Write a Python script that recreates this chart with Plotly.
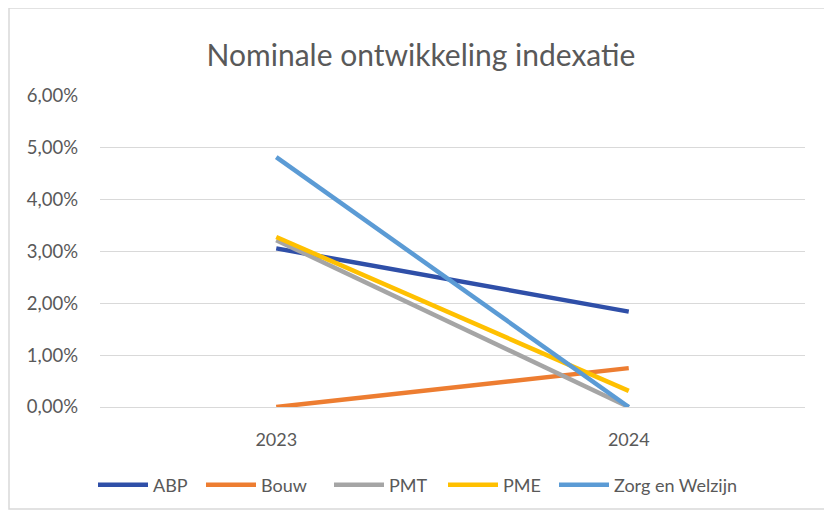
import plotly.graph_objects as go

years = ["2023", "2024"]
abp = [3.06, 1.84]
bouw = [0.0, 0.75]
pmt = [3.22, 0.0]
pme = [3.28, 0.31]
zorg = [4.82, 0.0]

series_names = ["ABP", "Bouw", "PMT", "PME", "Zorg en Welzijn"]
series_values = [abp, bouw, pmt, pme, zorg]
colors = ["#2F4FA8", "#ED7D31", "#A5A5A5", "#FFC000", "#5B9BD5"]
legend_entry_widths = [43, 63, 49, 46, 130]

# page body has an 8px margin, so the figure is drawn 8px smaller and offset
OFF = 8
W, H = 832 - OFF, 511 - OFF
L, R, T, B = 100 - OFF, W - (805 - OFF), 96 - OFF, H - (407 - OFF)

fig = go.Figure()
for name, vals, c, lw in zip(series_names, series_values, colors, legend_entry_widths):
    fig.add_trace(go.Scatter(
        x=years, y=[v / 100 for v in vals], name=name, mode="lines",
        line=dict(color=c, width=4.5), legendwidth=lw,
    ))

pw = W - L - R
ph = H - T - B
def px_x(p):
    return (p - OFF - L) / pw
def px_y(p):
    return (H - B - (p - OFF)) / ph

FONT = "Lato, Open Sans, sans-serif"
fig.update_layout(
    width=W, height=H,
    margin=dict(l=L, r=R, t=T, b=B),
    paper_bgcolor="white", plot_bgcolor="white",
    font=dict(family=FONT, color="#595959", size=18),
    separators=",.",
    title=dict(text="Nominale ontwikkeling indexatie", x=(421 - OFF) / W, xanchor="center",
               y=1 - (55 - OFF) / H, yanchor="middle",
               font=dict(size=30, color="#595959", family=FONT)),
    xaxis=dict(type="category", showgrid=False, showline=False, ticks="",
               tickfont=dict(size=18, color="#595959"), range=[-0.5, 1.5],
               ticklabelstandoff=20),
    yaxis=dict(range=[0, 0.06], dtick=0.01, tickformat=".2%", showgrid=True,
               gridcolor="#D9D9D9", gridwidth=1, zeroline=True, zerolinecolor="#D9D9D9",
               zerolinewidth=1, showline=False, ticks="", ticklen=0,
               tickfont=dict(size=18.5, color="#595959"), ticklabelstandoff=21),
    legend=dict(orientation="h", xref="container", x=(98 - OFF - 5) / W, xanchor="left",
                yref="container", y=1 - (485 - OFF) / H, yanchor="middle",
                font=dict(size=18, color="#595959"), itemwidth=50,
                tracegroupgap=0),
    showlegend=True,
    shapes=[dict(type="rect", xref="paper", yref="paper",
                 x0=px_x(9), x1=px_x(830), y0=px_y(509), y1=px_y(8),
                 line=dict(color="#D9D9D9", width=1.5), fillcolor="rgba(0,0,0,0)",
                 layer="below")],
)

fig.write_html("out.html")
